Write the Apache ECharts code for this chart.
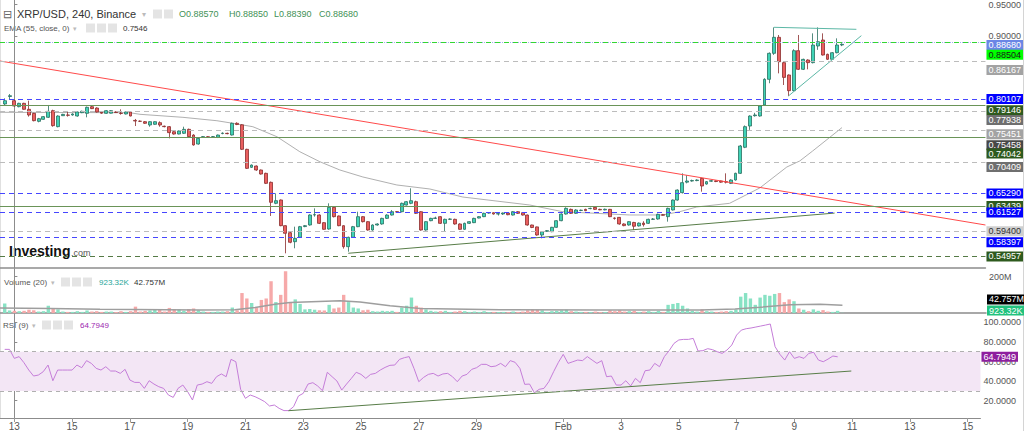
<!DOCTYPE html>
<html><head><meta charset="utf-8">
<script src="https://cdn.jsdelivr.net/npm/echarts@6/dist/echarts.min.js"></script>
<style>html,body{margin:0;padding:0;background:#fff}#c{width:1024px;height:431px}</style>
</head><body><div id="c"></div>
<script>
// ---- time base: hours from Jan 13 00:00, 240-minute candles ----
const startHour = -8;
const stepHours = 4;
// [open, close, low, high]
const candles = [
[0.7921,0.7973,0.7889,0.8010],[0.8040,0.8052,0.7990,0.8079],[0.7973,0.7889,0.7880,0.7990],[0.7878,0.7931,0.7868,0.7940],[0.7931,0.7836,0.7830,0.7940],
[0.7836,0.7746,0.7720,0.7973],[0.7772,0.7656,0.7645,0.7780],[0.7645,0.7688,0.7630,0.7700],[0.7677,0.7720,0.7670,0.7730],[0.7709,0.7804,0.7700,0.7905],
[0.7815,0.7577,0.7560,0.7830],[0.7561,0.7730,0.7550,0.7741],[0.7735,0.7756,0.7730,0.7765],[0.7746,0.7741,0.7720,0.7799],[0.7746,0.7762,0.7735,0.7772],
[0.7730,0.7794,0.7720,0.7800],[0.7783,0.7804,0.7775,0.7815],[0.7772,0.7868,0.7709,0.7880],[0.7878,0.7847,0.7840,0.7890],[0.7857,0.7794,0.7785,0.7868],
[0.7790,0.7775,0.7765,0.7804],[0.7772,0.7815,0.7765,0.7825],[0.7775,0.7815,0.7770,0.7825],[0.7794,0.7785,0.7780,0.7805],[0.7775,0.7770,0.7751,0.7836],
[0.7762,0.7794,0.7755,0.7800],[0.7794,0.7730,0.7725,0.7804],[0.7660,0.7650,0.7571,0.7683],[0.7648,0.7645,0.7635,0.7660],[0.7640,0.7614,0.7605,0.7650],
[0.7587,0.7640,0.7560,0.7648],[0.7598,0.7640,0.7590,0.7645],[0.7624,0.7587,0.7560,0.7645],[0.7568,0.7561,0.7550,0.7577],[0.7561,0.7466,0.7375,0.7570],
[0.7481,0.7444,0.7435,0.7490],[0.7444,0.7492,0.7438,0.7500],[0.7455,0.7518,0.7445,0.7560],[0.7518,0.7402,0.7395,0.7530],[0.7428,0.7270,0.7260,0.7440],
[0.7285,0.7375,0.7275,0.7385],[0.7395,0.7402,0.7385,0.7412],[0.7400,0.7395,0.7385,0.7410],[0.7398,0.7402,0.7390,0.7412],[0.7391,0.7428,0.7380,0.7435],
[0.7452,0.7458,0.7440,0.7470],[0.7455,0.7450,0.7440,0.7465],[0.7428,0.7614,0.7420,0.7625],[0.7614,0.7595,0.7585,0.7630],[0.7590,0.7201,0.7190,0.7600],
[0.7201,0.6899,0.6890,0.7210],[0.6915,0.6952,0.6905,0.6960],[0.6936,0.6873,0.6860,0.6945],[0.6873,0.6809,0.6800,0.6880],[0.6820,0.6661,0.6650,0.6830],
[0.6677,0.6360,0.6143,0.6690],[0.6344,0.6386,0.6330,0.6502],[0.6397,0.5989,0.5980,0.6405],[0.5989,0.5868,0.5550,0.5995],[0.5878,0.5725,0.5710,0.5890],
[0.5735,0.5788,0.5630,0.5973],[0.5804,0.5973,0.5795,0.5985],[0.5975,0.5989,0.5965,0.6000],[0.6000,0.6159,0.5990,0.6170],[0.6159,0.6164,0.6132,0.6264],
[0.6159,0.6026,0.6015,0.6170],[0.6037,0.5931,0.5925,0.6045],[0.5936,0.6280,0.5925,0.6344],[0.6280,0.6132,0.6120,0.6290],[0.6143,0.5989,0.5980,0.6150],
[0.5989,0.5656,0.5625,0.5995],[0.5656,0.5804,0.5576,0.5815],[0.5804,0.5973,0.5795,0.5985],[0.5973,0.6132,0.5965,0.6211],[0.6132,0.6053,0.6040,0.6140],
[0.6053,0.5920,0.5910,0.6060],[0.5920,0.6000,0.5910,0.6010],[0.6000,0.6016,0.5990,0.6026],[0.6016,0.6105,0.6005,0.6115],[0.6105,0.6158,0.6095,0.6170],
[0.6158,0.6211,0.6150,0.6238],[0.6211,0.6206,0.6195,0.6220],[0.6211,0.6344,0.6200,0.6355],[0.6317,0.6370,0.6310,0.6380],[0.6344,0.6386,0.6330,0.6582],
[0.6370,0.6185,0.6175,0.6386],[0.6211,0.5920,0.5910,0.6220],[0.5920,0.6053,0.5910,0.6060],[0.6068,0.6105,0.6060,0.6115],[0.6105,0.6110,0.6095,0.6132],
[0.6132,0.6026,0.6016,0.6140],[0.6026,0.6090,0.5894,0.6100],[0.6090,0.6095,0.6080,0.6105],[0.6090,0.6016,0.6005,0.6100],[0.6016,0.5931,0.5925,0.6026],
[0.5931,0.6026,0.5925,0.6037],[0.6026,0.6053,0.6016,0.6060],[0.6037,0.6105,0.6030,0.6115],[0.6110,0.6132,0.6105,0.6140],[0.6132,0.6185,0.6125,0.6195],
[0.6190,0.6195,0.6180,0.6205],[0.6195,0.6174,0.6165,0.6200],[0.6174,0.6180,0.6150,0.6188],[0.6175,0.6190,0.6160,0.6198],[0.6190,0.6163,0.6155,0.6195],
[0.6158,0.6211,0.6150,0.6220],[0.6211,0.6185,0.6175,0.6220],[0.6195,0.6158,0.6150,0.6205],[0.6158,0.6000,0.5990,0.6165],[0.6000,0.5960,0.5950,0.6005],
[0.5970,0.5841,0.5830,0.5975],[0.5841,0.5894,0.5788,0.5900],[0.5900,0.5910,0.5890,0.5920],[0.5894,0.5963,0.5885,0.5970],[0.5963,0.6068,0.5955,0.6075],
[0.6068,0.6174,0.6060,0.6185],[0.6174,0.6264,0.6165,0.6280],[0.6248,0.6185,0.6175,0.6260],[0.6185,0.6238,0.6175,0.6250],[0.6230,0.6235,0.6220,0.6245],
[0.6248,0.6227,0.6220,0.6258],[0.6260,0.6264,0.6250,0.6275],[0.6280,0.6248,0.6240,0.6290],[0.6248,0.6240,0.6235,0.6258],[0.6240,0.6250,0.6232,0.6260],
[0.6248,0.6132,0.6125,0.6255],[0.6110,0.6105,0.6085,0.6120],[0.6121,0.6016,0.6005,0.6125],[0.6016,0.5990,0.5980,0.6026],[0.6000,0.6053,0.5990,0.6060],
[0.6040,0.5980,0.5920,0.6050],[0.5985,0.6030,0.5975,0.6040],[0.6030,0.6005,0.5975,0.6060],[0.6026,0.6090,0.6016,0.6100],[0.6090,0.6095,0.6080,0.6110],
[0.6095,0.6169,0.6085,0.6180],[0.6163,0.6155,0.6150,0.6175],[0.6132,0.6264,0.6053,0.6275],[0.6238,0.6396,0.6230,0.6405],[0.6396,0.6555,0.6386,0.6565],
[0.6513,0.6672,0.6500,0.6820],[0.6680,0.6698,0.6661,0.6790],[0.6698,0.6705,0.6688,0.6720],[0.6705,0.6714,0.6695,0.6725],[0.6740,0.6619,0.6529,0.6750],
[0.6650,0.6688,0.6640,0.6698],[0.6695,0.6703,0.6685,0.6715],[0.6700,0.6690,0.6680,0.6710],[0.6698,0.6680,0.6670,0.6705],[0.6688,0.6680,0.6660,0.6820],
[0.6661,0.6714,0.6650,0.6725],[0.6714,0.6820,0.6705,0.6830],[0.6820,0.7254,0.6810,0.7270],[0.7233,0.7561,0.7220,0.7580],[0.7571,0.7730,0.7510,0.7740],
[0.7735,0.7746,0.7720,0.7780],[0.7730,0.7889,0.7720,0.7895],[0.7905,0.8312,0.7890,0.8330],[0.8312,0.8725,0.8250,0.8740],[0.8725,0.8979,0.8700,0.9137],
[0.8979,0.8592,0.8407,0.9016],[0.8577,0.8343,0.8222,0.8590],[0.8381,0.8132,0.8047,0.8390],[0.8132,0.8767,0.8120,0.8790],[0.8767,0.8471,0.8460,0.9016],
[0.8471,0.8629,0.8460,0.8640],[0.8619,0.8577,0.8471,0.8630],[0.8577,0.8857,0.8565,0.9042],[0.8841,0.8910,0.8780,0.9137],[0.8936,0.8698,0.8690,0.9042],
[0.8709,0.8630,0.8620,0.8720],[0.8630,0.8735,0.8620,0.8745],[0.8735,0.8857,0.8725,0.8963],[0.88570,0.88680,0.88390,0.88850]
];
// volume in millions
const volumes = [
53,14,12,10,12,18,15,8,10,40,
25,20,8,6,6,10,6,14,8,10,
6,8,8,5,10,6,10,35,8,12,
14,20,22,8,28,22,20,12,22,25,
15,8,6,6,8,8,10,30,15,110,
80,55,30,72,80,175,60,100,230,60,
75,50,20,22,18,15,14,45,25,30,
100,60,30,25,15,18,10,8,12,10,
12,6,30,40,85,40,30,20,12,8,
10,12,6,8,12,10,6,8,6,10,
5,6,5,6,5,8,6,8,15,20,
18,15,6,10,12,15,18,10,8,6,
6,5,8,5,5,15,10,15,8,10,
12,6,8,10,6,12,6,45,50,55,
40,25,12,8,20,10,8,6,8,10,
12,20,90,110,80,45,85,100,95,105,
110,60,75,65,25,18,10,20,12,16,
8,6,12,0.92332
];
// RSI(9) per candle
const rsi = [
72.4,72.4,63.2,65.0,58.8,51.3,45.2,46.2,49.6,56.4,
40.4,51.3,51.3,51.3,51.3,56.4,53.7,60.9,58.1,53.0,
51.3,54.7,50.3,50.3,47.9,52.0,41.1,38.7,38.7,32.6,
40.4,37.0,34.3,32.6,25.8,23.4,32.6,36.0,29.2,20.7,
36.0,37.0,39.4,37.7,44.5,47.3,44.5,62.2,59.8,31.6,
22.4,25.8,24.1,21.7,19.0,14.6,15.6,12.2,9.9,9.9,
13.9,24.8,27.5,37.0,38.4,35.0,30.2,49.0,44.5,40.1,
30.9,37.0,42.8,49.0,46.9,42.8,46.9,47.9,51.3,54.0,
56.1,56.4,62.2,63.9,65.0,53.0,39.4,43.8,46.9,47.9,
45.2,47.3,47.9,44.5,39.4,45.2,46.9,52.0,53.7,57.1,
57.1,54.7,55.4,58.1,54.7,60.9,59.2,53.0,36.7,37.0,
28.2,31.6,32.6,39.4,49.6,59.2,67.3,58.1,59.8,61.5,
60.9,65.0,61.5,58.1,60.9,44.5,45.2,36.0,36.0,40.4,
35.0,42.8,38.4,50.6,51.3,58.1,54.7,65.0,71.1,78.5,
82.0,82.6,82.6,83.6,70.7,71.1,73.1,72.1,70.0,68.3,
71.7,76.8,87.0,92.1,93.5,94.2,95.2,96.2,97.2,98.3,
75.1,67.3,61.5,70.0,63.2,64.9,63.2,68.3,69.4,61.5,
59.8,62.5,65.6,64.7949
];
// EMA(55): [hour, value]
const emaPts = [[-11.9,0.7789],[95.5,0.7782],[103.8,0.7757],[139.3,0.7709],[167.4,0.7655],[180.6,0.7614],[197.1,0.7560],[217.0,0.7401],[235.9,0.7163],[252.5,0.7004],[269.0,0.6873],[288.0,0.6762],[316.1,0.6635],[343.4,0.6571],[370.6,0.6444],[426.0,0.6317],[453.2,0.6211],[508.6,0.6159],[535.9,0.6159],[549.9,0.6211],[564.0,0.6286],[591.1,0.6344],[616.0,0.6587],[638.4,0.6920],[649.1,0.7016],[659.8,0.7175],[684.0,0.7546]];
// Volume MA(20): [hour, M]
const volMaPts = [[-11.9,28],[29.4,25],[70.7,20],[153.3,17],[182,18],[198.8,30],[215.3,48],[227.7,58],[269,68],[285.5,60],[310.3,40],[335,25],[401.2,18],[483.8,17],[566.4,16],[595.4,22],[616,32],[640.8,45],[665.6,48],[684,42.757]];
// drawn trend lines: [hour, value]
const redLine = [[-11.9,0.8603],[802.6,0.6000]];
const supportLine = [[275.9,0.5551],[677.9,0.6189]];
const flagTop = [[627.8,0.9138],[695.9,0.9106]];
const flagBottom = [[639.7,0.8047],[700.0,0.9005]];
const rsiTrend = [[227.7,9.8],[695.3,50.3]];
// horizontal levels (top to bottom) and their style kinds
const levelValues = [0.88680,0.88504,0.86167,0.80107,0.79146,0.77938,0.75451,0.74042,0.70409,0.65290,0.63439,0.61527,0.59400,0.58397,0.54957];
const levelKinds = ['last','green','grey','blue','olive','greyDark','grey','olive','greyDark','blue','olive','blue','greyLight','blue','oliveDash'];
const emaLast = 0.75458;
const volMaLast = 42.757, volLast = 0.92332;
const rsiLast = 64.7949;
// axis ticks
const tickHours = [0,48,96,144,192,240,288,336,384,456,504,552,600,648,696,744,792];
const tickLabels = ['13','15','17','19','21','23','25','27','29','Feb','3','5','7','9','11','13','15'];
const priceTicks = [0.90,0.95];
const volTicks = [200];
const rsiTicks = [20,40,60,80,100];

const FONT = '"Liberation Sans", Arial, sans-serif';
const X_MIN = -11.9, X_MAX = 802.6;
const styles = {
  last:{line:'#a3adf0',type:'dotted',bg:'#6b86e6',fg:'#fff'},
  green:{line:'#33d633',type:[5,4],bg:'#00ff00',fg:'#1a1a1a'},
  grey:{line:'#bcbcbc',type:[5,4],bg:'#a3a3a3',fg:'#fff'},
  greyDark:{line:'#bcbcbc',type:[5,4],bg:'#6f6f6f',fg:'#fff'},
  greyLight:{line:'#bcbcbc',type:[5,4],bg:'#cfcfcf',fg:'#333'},
  blue:{line:'#4646ff',type:[5,4],bg:'#0000ff',fg:'#fff'},
  olive:{line:'#6a9458',type:'solid',bg:'#2e5a1e',fg:'#fff'},
  oliveDash:{line:'#557a45',type:[5,4],bg:'#2e5a1e',fg:'#fff'},
  ema:{line:'rgba(0,0,0,0)',type:'solid',bg:'#474747',fg:'#fff'}
};
const UP='#3fd3b6', DOWN='#ea5f5f';
const candleData = candles.map((c,i)=>[startHour+i*stepHours,c[0],c[1],c[2],c[3]]);
const volData = volumes.map((v,i)=>({value:[startHour+i*stepHours,v],itemStyle:{color: candles[i][1]>=candles[i][0] ? '#88e2c4' : '#f6a9a9'}}));
const rsiData = rsi.map((r,i)=>[startHour+i*stepHours,r]);

function tagLabel(text,bg,fg,dy){
  return {show:true,position:'end',distance:1,formatter:text,backgroundColor:bg,color:fg,fontSize:9,lineHeight:10,fontFamily:FONT,padding:[0,2,0,2],offset:[0,dy||0]};
}
function levelItem(v,kind,dy){
  const s=styles[kind];
  return {yAxis:v,lineStyle:{color:s.line,type:s.type,width:1},label:tagLabel(v.toFixed(5),s.bg,s.fg,dy)};
}
const xCommon = {type:'value',min:X_MIN,max:X_MAX,splitLine:{show:false},axisLabel:{show:false},axisTick:{show:false},axisLine:{show:true,lineStyle:{color:'#8c8c8c',width:1.5}}};
const yCommon = {type:'value',position:'right',splitLine:{show:false},axisLine:{show:true,lineStyle:{color:'#8c8c8c'}},axisTick:{show:true,length:3,lineStyle:{color:'#8c8c8c'}},axisLabel:{fontSize:9,color:'#555',fontFamily:FONT,margin:3}};
const line = (id,data,color,xi,yi,w,z)=>({id,type:'line',data,xAxisIndex:xi,yAxisIndex:yi,showSymbol:false,symbol:'none',lineStyle:{color,width:w||1},silent:true,z:z||2});

function iconRow(x0,y,n){ const a=[]; for(let k=0;k<n;k++) a.push({type:'rect',shape:{x:x0+k*11,y:y-4.5,width:9,height:9},style:{fill:'#e4e4e4'}}); return a; }
const T=(text,x,y,size,color,weight)=>({type:'text',x,y,style:{text,fontSize:size,fill:color,fontFamily:FONT,fontWeight:weight||'normal',verticalAlign:'middle'}});

const option = {
  animation:false,
  backgroundColor:'#fff',
  grid:[{left:0,right:38,top:0,height:268},{left:0,right:38,top:269,height:44},{left:0,right:38,top:314,height:104}],
  xAxis:[
    Object.assign({},xCommon,{gridIndex:0}),
    Object.assign({},xCommon,{gridIndex:1}),
    Object.assign({},xCommon,{gridIndex:2,axisLine:{show:true,lineStyle:{color:'#8c8c8c',width:1}},
      axisTick:{show:true,length:4,customValues:tickHours,lineStyle:{color:'#999'}},
      axisLabel:{show:true,customValues:tickHours,fontSize:10,color:'#555',fontFamily:FONT,margin:3,
        formatter:v=>tickLabels[tickHours.indexOf(Math.round(v))]}})
  ],
  yAxis:[
    Object.assign({},yCommon,{gridIndex:0,min:0.53172,max:0.95712,axisTick:Object.assign({},yCommon.axisTick,{customValues:priceTicks}),axisLabel:Object.assign({},yCommon.axisLabel,{customValues:priceTicks,formatter:v=>v.toFixed(5)})}),
    Object.assign({},yCommon,{gridIndex:1,min:0,max:242.4,axisTick:Object.assign({},yCommon.axisTick,{customValues:volTicks}),axisLabel:Object.assign({},yCommon.axisLabel,{customValues:volTicks,formatter:v=>v+'M'})}),
    Object.assign({},yCommon,{gridIndex:2,min:2.35,max:108.5,axisTick:Object.assign({},yCommon.axisTick,{customValues:rsiTicks}),axisLabel:Object.assign({},yCommon.axisLabel,{customValues:rsiTicks,formatter:v=>v.toFixed(4)})})
  ],
  series:[
    Object.assign(line('ema',emaPts,'#b0b0b0',0,0,1,1),{markLine:{silent:true,symbol:['none','none'],data:[]}}),
    {id:'candles',type:'candlestick',xAxisIndex:0,yAxisIndex:0,data:candleData,encode:{x:0,y:[1,2,3,4]},barWidth:3.4,z:3,
      itemStyle:{color:UP,color0:DOWN,borderColor:'#2a6e60',borderColor0:'#8a2c2c',borderWidth:0.8}},
    line('red',redLine,'#ff4a4a',0,0,1,4),
    line('support',supportLine,'#587d48',0,0,1,4),
    line('flagTop',flagTop,'#5cb8a6',0,0,1,4),
    line('flagBottom',flagBottom,'#5cb8a6',0,0,1,4),
    {id:'vol',type:'bar',xAxisIndex:1,yAxisIndex:1,data:volData,barWidth:3.4,silent:true,z:2},
    Object.assign(line('volMa',volMaPts,'#9e9e9e',1,1,1.5,3),{markLine:{silent:true,symbol:['none','none'],data:[]}}),
    Object.assign(line('rsi',rsiData,'#c47dd8',2,2,1,3),{
      markArea:{silent:true,itemStyle:{color:'#f3e6f5'},data:[[{yAxis:30},{yAxis:70}]]},
      markLine:{silent:true,symbol:['none','none'],data:[]}}),
    line('rsiTrend',rsiTrend,'#587d48',2,2,1,4)
  ],
  graphic:[
    {type:'line',shape:{x1:1023.5,y1:0,x2:1023.5,y2:431},style:{stroke:'#d4d4d4',lineWidth:1}},
    {type:'line',shape:{x1:0.5,y1:0,x2:0.5,y2:418},style:{stroke:'#e0e0e0',lineWidth:1}},
    T('\u229F',3,14,11,'#666'),
    T('XRP/USD, 240, Binance',17,14,11,'#333'),
    T('\u25BE',142,14,8,'#bbb'),
    ...iconRow(153,14,2),
    T('O0.88570',179,14,9,'#3f9156'),T('H0.88850',229,14,9,'#3f9156'),T('L0.88390',274,14,9,'#3f9156'),T('C0.88680',319,14,9,'#3f9156'),
    T('EMA (55, close, 0)',4,28,8,'#555'),
    T('\u25BE',73,28,7,'#bbb'),
    ...iconRow(86,28,3),
    T('0.7546',123,28,8,'#333'),
    T('Investing',9,251,14,'#111','bold'),
    T('.com',71,253,9,'#555'),
    T('Volume (20)',4,282,8,'#555'),
    T('\u25BE',51,282,7,'#bbb'),
    ...iconRow(61,282,3),
    T('923.32K',99,282,8,'#26a69a'),
    T('42.757M',134,282,8,'#333'),
    T('RSI (9)',3,325,8,'#555'),
    T('\u25BE',32,325,7,'#bbb'),
    ...iconRow(42,325,3),
    T('64.7949',80,325,8,'#9c27b0')
  ]
};

const chart = echarts.init(document.getElementById('c'),null,{renderer:'svg',width:1024,height:431});
chart.setOption(option);

// stack price tags on the right axis so they do not overlap (TradingView style)
const order = [];
levelValues.forEach((v,i)=>{ order.push({v,kind:levelKinds[i]}); if (v===0.75451) order.push({v:emaLast,kind:'ema'}); });
let prev = chart.convertToPixel({yAxisIndex:0},0.90);
const priceItems = order.map(e=>{ const y=chart.convertToPixel({yAxisIndex:0},e.v); const pos=Math.max(y,prev+11); prev=pos; return levelItem(e.v,e.kind,pos-y); });

const yMa = chart.convertToPixel({yAxisIndex:1},volMaLast), yV = chart.convertToPixel({yAxisIndex:1},volLast);
const bottomVol = chart.convertToPixel({yAxisIndex:1},0);
const posV = Math.min(yV,bottomVol-2.5), posMa = Math.min(yMa,posV-11);
const volItems = [
  {yAxis:volMaLast,lineStyle:{color:'rgba(0,0,0,0)'},label:tagLabel('42.757M','#000','#fff',posMa-yMa)},
  {yAxis:volLast,lineStyle:{color:'rgba(0,0,0,0)'},label:tagLabel('923.32K','#22c27e','#fff',posV-yV)}
];
const rsiItems = [
  {yAxis:70,lineStyle:{color:'#b0b0b0',type:[4,4],width:1},label:{show:false}},
  {yAxis:30,lineStyle:{color:'#b0b0b0',type:[4,4],width:1},label:{show:false}},
  {yAxis:rsiLast,lineStyle:{color:'rgba(0,0,0,0)'},label:tagLabel(rsiLast.toFixed(4),'#8e1f9e','#fff',0)}
];
chart.setOption({series:[{id:'ema',markLine:{data:priceItems}},{id:'volMa',markLine:{data:volItems}},{id:'rsi',markLine:{data:rsiItems}}]});
</script></body></html>
